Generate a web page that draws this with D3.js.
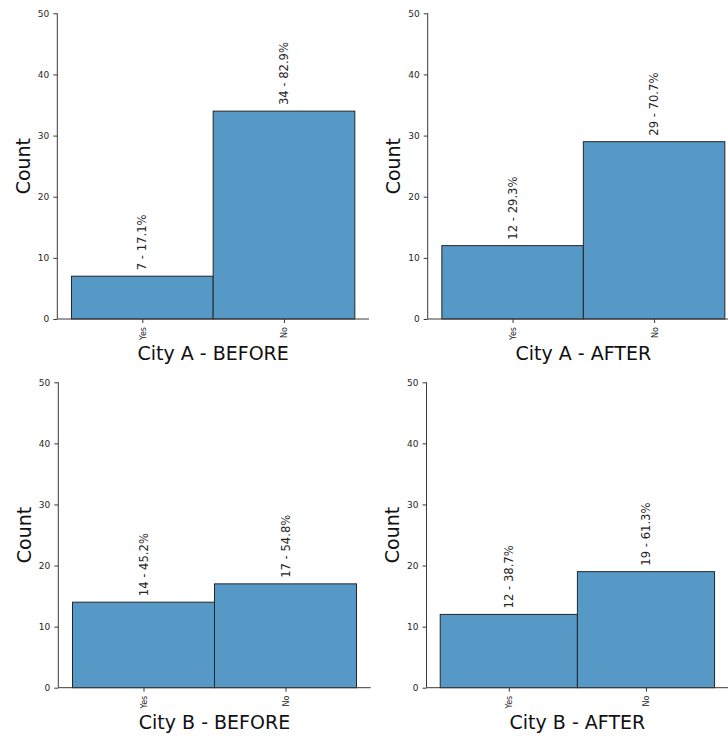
<!DOCTYPE html>
<html>
<head>
<meta charset="utf-8">
<script src="https://cdn.jsdelivr.net/npm/d3@7"></script>
<style>
  html, body { margin: 0; padding: 0; background: #fff; }
  svg { display: block; font-family: "DejaVu Sans", sans-serif; }
</style>
</head>
<body>
<svg id="chart" width="728" height="736"></svg>
<script>
// ---- data ----
const panelTitles = ["City A - BEFORE", "City A - AFTER", "City B - BEFORE", "City B - AFTER"];
const categories = ["Yes", "No"];
const yesCounts = [7, 12, 14, 12];
const noCounts = [34, 29, 17, 19];
const yTicks = [0, 10, 20, 30, 40, 50];
const yMax = 50;

// ---- layout (pixel frames of each axes) ----
const frames = [
  { x0: 57.3, x1: 369.0, yTop: 13.3, yBot: 319.0 },
  { x0: 427.7, x1: 739.0, yTop: 13.3, yBot: 319.0 },
  { x0: 58.3, x1: 370.7, yTop: 382.3, yBot: 687.7 },
  { x0: 426.5, x1: 728.3, yTop: 382.3, yBot: 687.7 }
];

const svg = d3.select("#chart");
const fill = "#5698c6";
const edge = "#262626";
const axisColor = "#3a3a3a";
const textColor = "#262626";

panelTitles.forEach((title, i) => {
  const f = frames[i];
  const counts = [yesCounts[i], noCounts[i]];
  const total = d3.sum(counts);
  const data = categories.map((c, j) => ({ cat: c, idx: j, count: counts[j], pct: counts[j] / total * 100 }));

  // x: continuous positions, bins centered on 0 and 1, width 1, 5% margins
  const x = d3.scaleLinear().domain([-0.6, 1.6]).range([f.x0, f.x1]);
  const y = d3.scaleLinear().domain([0, yMax]).range([f.yBot, f.yTop]);

  const g = svg.append("g");

  // bars
  g.selectAll("rect.bar").data(data).join("rect")
    .attr("class", "bar")
    .attr("x", d => x(d.idx - 0.5))
    .attr("width", d => x(d.idx + 0.5) - x(d.idx - 0.5))
    .attr("y", d => y(d.count))
    .attr("height", d => y(0) - y(d.count))
    .attr("fill", fill)
    .attr("stroke", edge)
    .attr("stroke-width", 1);

  // bar labels
  g.selectAll("text.lbl").data(data).join("text")
    .attr("class", "lbl")
    .attr("transform", d => `translate(${x(d.idx) + 4},${y(d.count) - 6}) rotate(-90)`)
    .attr("text-anchor", "start")
    .attr("font-size", "11.6px")
    .attr("fill", textColor)
    .text(d => `${d.count} - ${d.pct.toFixed(1)}%`);

  // y axis
  const yAxis = d3.axisLeft(y).tickValues(yTicks).tickSize(4).tickPadding(4).tickFormat(d3.format("d"));
  const ya = g.append("g").attr("transform", `translate(${f.x0},0)`).call(yAxis);
  ya.select(".domain").attr("stroke", axisColor).attr("d", `M0,${f.yBot}V${f.yTop}`);
  ya.selectAll(".tick line").attr("stroke", axisColor);
  ya.selectAll(".tick text").attr("font-size", "9px").attr("fill", textColor)
    .attr("font-family", "DejaVu Sans, sans-serif");

  // x axis
  const xAxis = d3.axisBottom(x).tickValues([0, 1]).tickSize(4).tickFormat(d => categories[d]);
  const xa = g.append("g").attr("transform", `translate(0,${f.yBot})`).call(xAxis);
  xa.select(".domain").attr("stroke", axisColor).attr("d", `M${f.x0},0H${f.x1}`);
  xa.selectAll(".tick line").attr("stroke", axisColor);
  xa.selectAll(".tick text")
    .attr("font-size", "8px").attr("fill", textColor)
    .attr("font-family", "DejaVu Sans, sans-serif")
    .attr("text-anchor", "end")
    .attr("dy", null)
    .attr("y", 0)
    .attr("transform", "translate(3,8) rotate(-90)");

  // y label
  g.append("text")
    .attr("transform", `translate(${f.x0 - 27.5},${(f.yTop + f.yBot) / 2}) rotate(-90)`)
    .attr("text-anchor", "middle")
    .attr("font-size", "19px")
    .attr("fill", "#111")
    .text("Count");

  // x title
  g.append("text")
    .attr("x", (f.x0 + f.x1) / 2)
    .attr("y", f.yBot + 41)
    .attr("text-anchor", "middle")
    .attr("font-size", "19px")
    .attr("fill", "#111")
    .text(title);
});
</script>
</body>
</html>
